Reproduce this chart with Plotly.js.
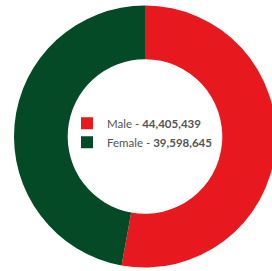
<!DOCTYPE html>
<html><head><meta charset="utf-8">
<script src="https://cdn.plot.ly/plotly-3.0.1.min.js"></script>
<style>html,body{margin:0;padding:0;overflow:hidden;background:#fff;}#chart{width:282px;height:271px;}</style>
</head><body><div id="chart"></div>
<script>
const categories = ["Male", "Female"];
const values = [44405439, 39598645];
const colors = ["#e8181f", "#054a26"];
const labels = categories.map((c, i) => c + " - <b>" + values[i].toLocaleString("en-US") + "</b>");
const W = 282, H = 271;
const trace = {
  type: "pie",
  labels: labels,
  values: values,
  hole: 0.59,
  sort: false,
  direction: "clockwise",
  rotation: 0,
  textinfo: "none",
  hoverinfo: "label+percent",
  marker: {colors: colors, line: {width: 0}},
  domain: {x: [14 / W, 276 / W], y: [(H - 268) / H, (H - 5) / H]}
};
const layout = {
  width: W, height: H,
  margin: {l: 0, r: 0, t: 0, b: 0},
  paper_bgcolor: "#ffffff",
  showlegend: true,
  legend: {
    x: 67 / W, y: 0.51, xanchor: "left", yanchor: "middle",
    bgcolor: "rgba(0,0,0,0)",
    font: {family: "Lato, 'Open Sans', sans-serif", size: 11.5, color: "#555"},
    itemwidth: 30, tracegroupgap: 0
  }
};
Plotly.newPlot("chart", [trace], layout, {displayModeBar: false, staticPlot: true});
</script></body></html>
